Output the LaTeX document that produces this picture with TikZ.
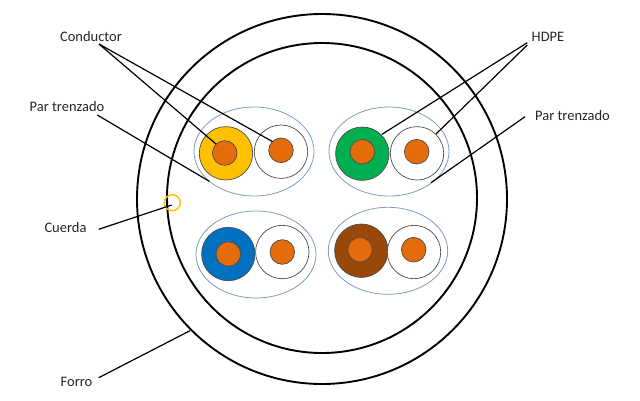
\documentclass[tikz,border=0pt]{standalone}
\usepackage{fontspec}
\setmainfont{Carlito}
\definecolor{coreor}{HTML}{E46C0A}
\definecolor{yel}{HTML}{FFC000}
\definecolor{grn}{HTML}{00B050}
\definecolor{blu}{HTML}{0070C0}
\definecolor{brn}{HTML}{984807}
\definecolor{oval}{HTML}{7F9AC0}
\definecolor{txt}{HTML}{262626}
\tikzset{
  x=1pt,y=-1pt,
  jacket/.style={draw=black,line width=1.9pt,fill=none},
  pairoval/.style={draw=oval,line width=0.8pt,fill=none},
  insul/.style={draw=black!70,line width=0.7pt},
  core/.style={draw=black!70,line width=0.7pt,fill=coreor},
  leader/.style={draw=black,line width=1.2pt},
  lab/.style={text=txt,font=\fontsize{14.5}{17}\selectfont,inner sep=0pt,anchor=center},
}
\begin{document}
\begin{tikzpicture}
\useasboundingbox (0,0) rectangle (640,400);
% cable rings
\draw[jacket] (322,199) circle[radius=185];
\draw[jacket] (322,198) circle[radius=155];
% pair ovals
\draw[pairoval] (254,151.5) ellipse[x radius=60,y radius=44.5];
\draw[pairoval] (389,151.5) ellipse[x radius=60,y radius=44.5];
\draw[pairoval] (256,254.5) ellipse[x radius=60,y radius=43.5];
\draw[pairoval] (388,250.8) ellipse[x radius=59.7,y radius=43.5];
% insulations
\draw[insul,fill=yel] (226,153.3) circle[radius=26.7];
\draw[insul,fill=white] (281,151.7) circle[radius=26.7];
\draw[insul,fill=grn] (362.3,153.7) circle[radius=26.7];
\draw[insul,fill=white] (417,153.3) circle[radius=26.7];
\draw[insul,fill=blu] (228.3,254) circle[radius=26.7];
\draw[insul,fill=white] (282.3,252) circle[radius=26.7];
\draw[insul,fill=brn] (361.3,250.7) circle[radius=26.7];
\draw[insul,fill=white] (414,252) circle[radius=26.7];
% conductors
\draw[core] (224.7,153) circle[radius=12.3];
\draw[core] (281,150.3) circle[radius=12.3];
\draw[core] (362.3,151.7) circle[radius=12.3];
\draw[core] (416.7,151.7) circle[radius=12.3];
\draw[core] (228.3,254) circle[radius=12.3];
\draw[core] (282.3,252) circle[radius=12.3];
\draw[core] (360,249.7) circle[radius=12.3];
\draw[core] (413.7,249.7) circle[radius=12.3];
% cord
\draw[draw=yel,line width=1.4pt] (172.3,202.7) circle[radius=8];
% labels
\node[lab] (conductor) at (91,36.5) {Conductor};
\node[lab] (partl) at (67,107) {Par trenzado};
\node[lab] (hdpe) at (548,37) {HDPE};
\node[lab] (partr) at (572.5,116) {Par trenzado};
\node[lab] (cuerda) at (65.5,227.5) {Cuerda};
\node[lab] (forro) at (76.5,381.5) {Forro};
% leader ends
\coordinate (c0) at (99,44);
\coordinate (c1) at (216,144);
\coordinate (c2) at (272.7,141.7);
\coordinate (p0) at (97.3,115);
\coordinate (p1) at (209.3,181.3);
\coordinate (h0) at (527.3,42.7);
\coordinate (h1) at (382,134.3);
\coordinate (h2) at (527.3,45);
\coordinate (h3) at (436,134);
\coordinate (r0) at (525,116.7);
\coordinate (r1) at (431,182.7);
\coordinate (u0) at (98.7,229.3);
\coordinate (u1) at (171.7,205);
\coordinate (f0) at (98.7,377.7);
\coordinate (f1) at (190,330.7);
\draw[leader] (c0) -- (c1);
\draw[leader] (c0) -- (c2);
\draw[leader] (p0) -- (p1);
\draw[leader] (h0) -- (h1);
\draw[leader] (h2) -- (h3);
\draw[leader] (r0) -- (r1);
\draw[leader] (u0) -- (u1);
\draw[leader] (f0) -- (f1);
\end{tikzpicture}
\end{document}
